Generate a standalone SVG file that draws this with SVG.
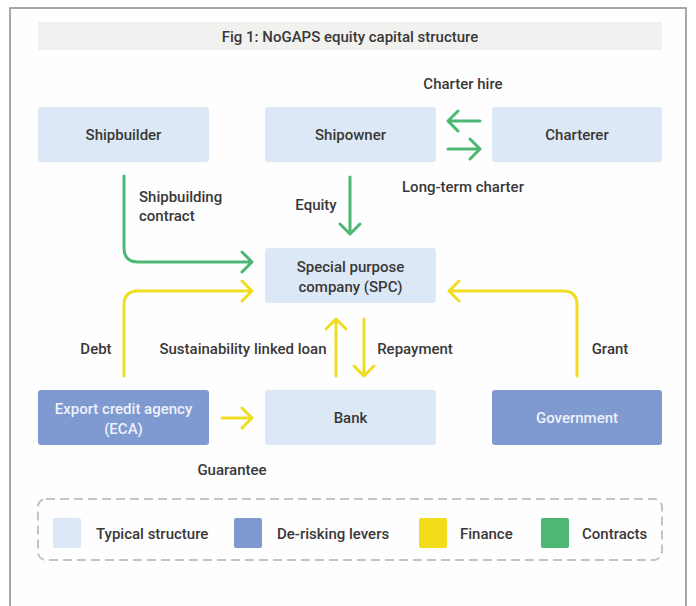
<svg xmlns="http://www.w3.org/2000/svg" width="696" height="606" viewBox="0 0 696 606">
<defs>
<style>
text{font-family:Roboto,"Liberation Sans",sans-serif;font-size:15px;font-weight:500;fill:#3a3838;}
.t{text-anchor:middle;}
.light{fill:#dce8f5;}
.mid{fill:#7f99d1;}
.wt{fill:#eef2fa;}
.g{fill:none;stroke:#4cb874;stroke-width:3;stroke-linecap:round;stroke-linejoin:round;}
.y{fill:none;stroke:#f0dc22;stroke-width:3;stroke-linecap:round;stroke-linejoin:round;}
</style>
</defs>
<rect x="0" y="0" width="696" height="606" fill="#ffffff"/>
<rect x="10" y="8" width="676" height="610" fill="#fefefe" stroke="#8a8a8a" stroke-width="1.5"/>
<g id="title">
<rect x="38" y="22" width="624" height="28" fill="#f1f1f0"/>
<text class="t" x="350" y="42">Fig 1: NoGAPS equity capital structure</text>
</g>
<g id="shipbuilder"><rect class="light" x="38" y="107" width="171" height="55" rx="3"/><text class="t" x="123.5" y="140">Shipbuilder</text></g>
<g id="shipowner"><rect class="light" x="265" y="107" width="171" height="55" rx="3"/><text class="t" x="350.5" y="140">Shipowner</text></g>
<g id="charterer"><rect class="light" x="492" y="107" width="170" height="55" rx="3"/><text class="t" x="577" y="140">Charterer</text></g>
<g id="spc"><rect class="light" x="265" y="248" width="171" height="55" rx="3"/><text class="t" x="350.5" y="272">Special purpose</text><text class="t" x="350.5" y="292">company (SPC)</text></g>
<g id="eca"><rect class="mid" x="38" y="390" width="171" height="55" rx="3"/><text class="t wt" x="123.5" y="414">Export credit agency</text><text class="t wt" x="123.5" y="434">(ECA)</text></g>
<g id="bank"><rect class="light" x="265" y="390" width="171" height="55" rx="3"/><text class="t" x="350.5" y="423">Bank</text></g>
<g id="government"><rect class="mid" x="492" y="390" width="170" height="55" rx="3"/><text class="t wt" x="577" y="423">Government</text></g>
<g id="connectors">
<path class="g" d="M480 121 H448 M458 111 L448 121 L458 131"/>
<path class="g" d="M448 149 H480 M470 139 L480 149 L470 159"/>
<path class="g" d="M350 177 V234 M340 224 L350 234 L360 224"/>
<path class="g" d="M124 176 V248 Q124 262 138 262 H252 M242 252 L252 262 L242 272"/>
<path class="y" d="M124 376 V305 Q124 291 138 291 H252 M242 281 L252 291 L242 301"/>
<path class="y" d="M577 376 V305 Q577 291 563 291 H449 M459 281 L449 291 L459 301"/>
<path class="y" d="M336 376 V319 M326 329 L336 319 L346 329"/>
<path class="y" d="M364 319 V376 M354 366 L364 376 L374 366"/>
<path class="y" d="M222 418 H252 M242 408 L252 418 L242 428"/>
</g>
<g id="labels">
<text class="t" x="463" y="89">Charter hire</text>
<text class="t" x="463" y="192">Long-term charter</text>
<text class="t" x="316" y="210">Equity</text>
<text x="139" y="202">Shipbuilding</text>
<text x="139" y="221">contract</text>
<text class="t" x="96" y="354">Debt</text>
<text class="t" x="243" y="354">Sustainability linked loan</text>
<text class="t" x="415" y="354">Repayment</text>
<text class="t" x="610" y="354">Grant</text>
<text class="t" x="232" y="475">Guarantee</text>
</g>
<g id="legend">
<rect x="38" y="499" width="624" height="61" rx="8" fill="none" stroke="#c9c3bf" stroke-width="2" stroke-dasharray="9 5"/>
<rect class="light" x="53" y="518" width="28" height="30" rx="2"/>
<text x="96" y="539">Typical structure</text>
<rect class="mid" x="234" y="518" width="28" height="30" rx="2"/>
<text x="277" y="539">De-risking levers</text>
<rect x="419" y="518" width="28" height="30" rx="2" fill="#f2dd1b"/>
<text x="460" y="539">Finance</text>
<rect x="541" y="518" width="28" height="30" rx="2" fill="#4cb874"/>
<text x="582" y="539">Contracts</text>
</g>
</svg>
